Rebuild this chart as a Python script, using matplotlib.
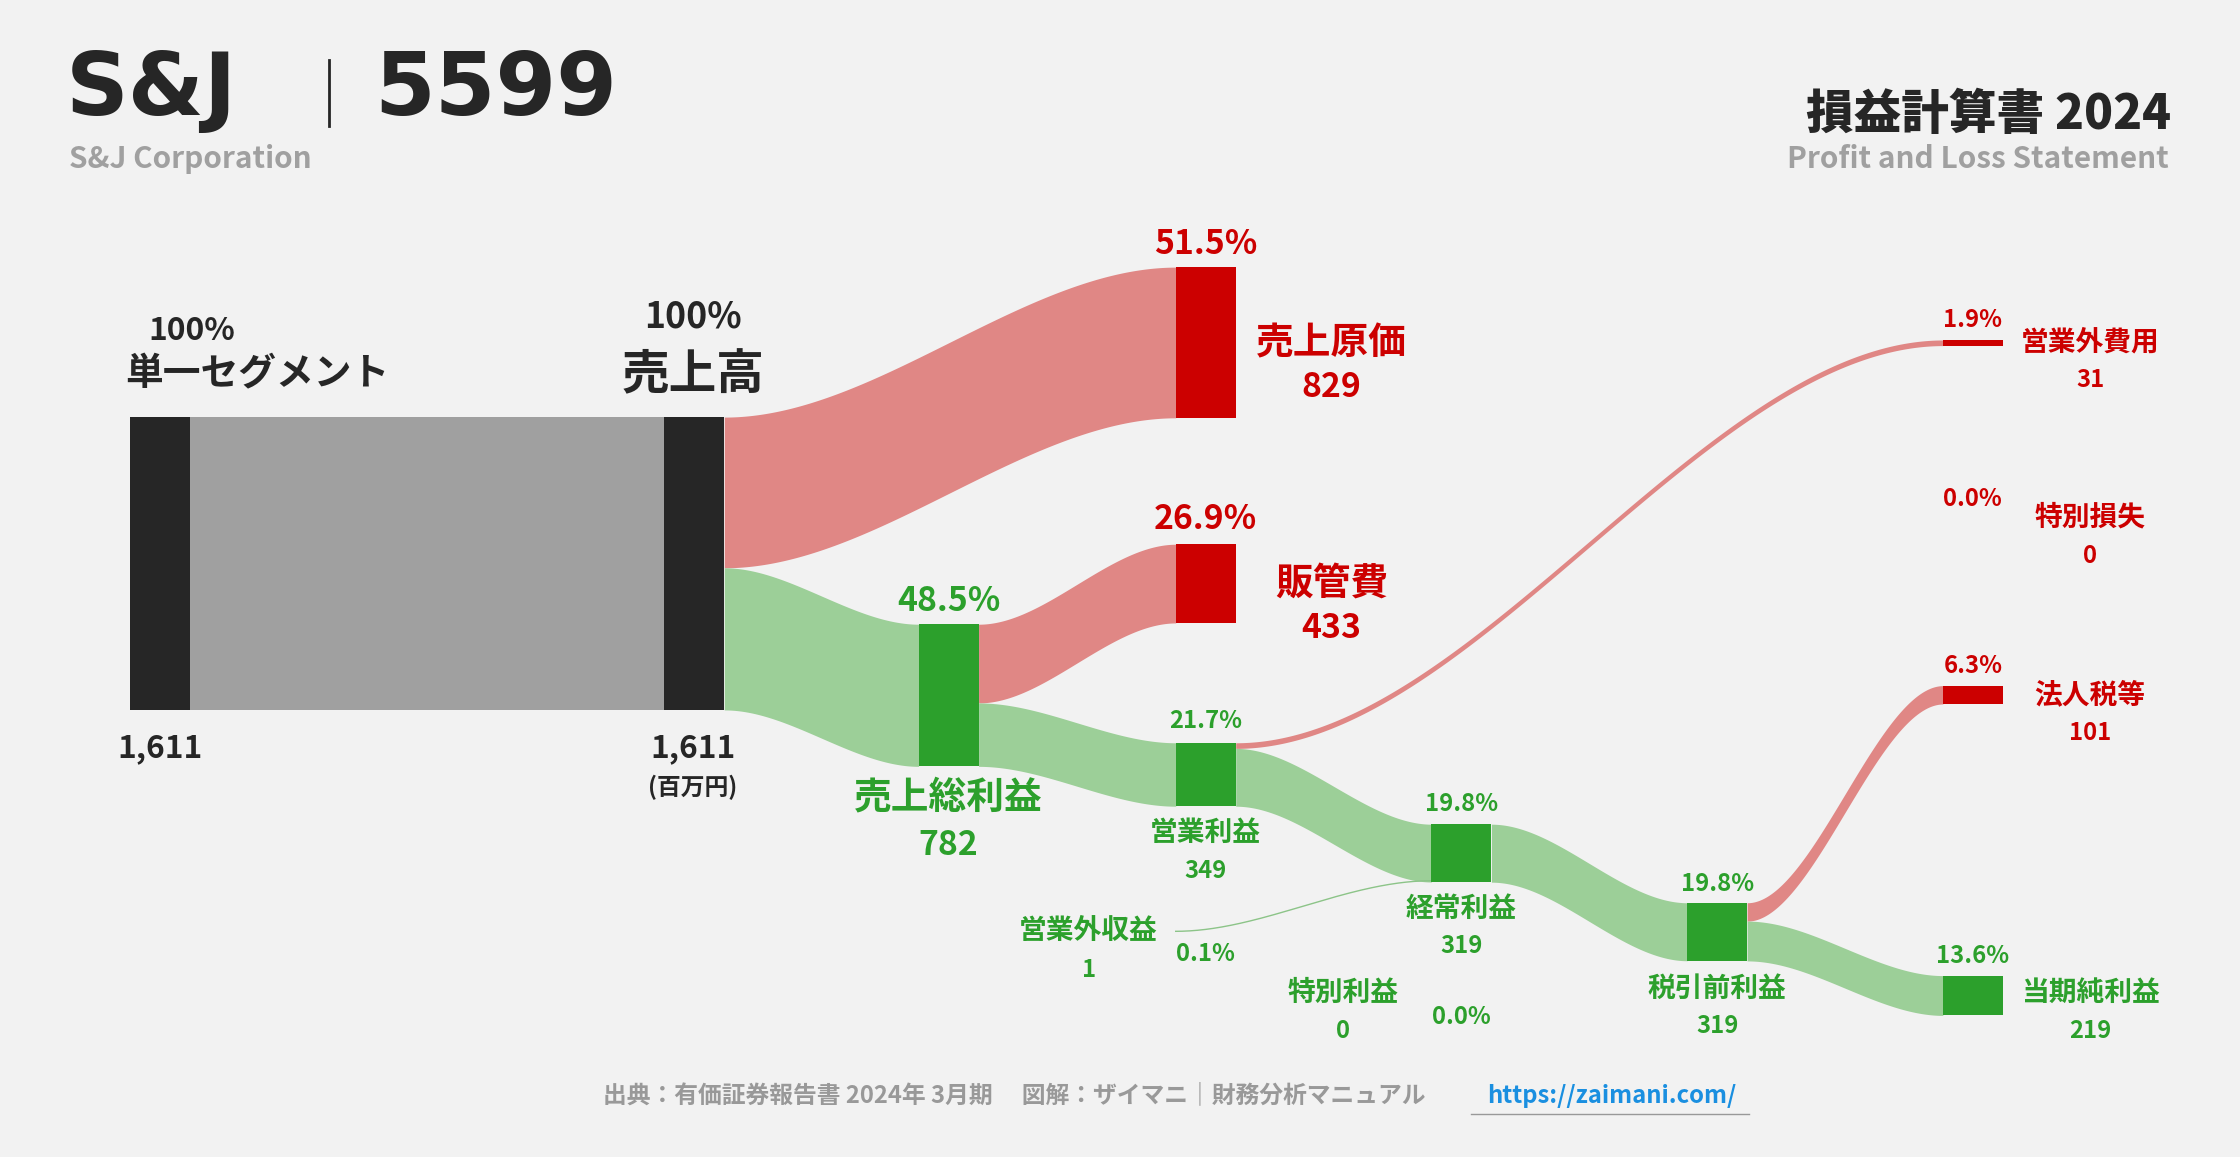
import matplotlib
matplotlib.use("Agg")
import matplotlib.pyplot as plt
import numpy as np

plt.rcParams["font.family"] = ["Noto Sans CJK JP"]

# data (百万円)
revenue = 1611
cogs = 829
gross = 782
sga = 433
op_income = 349
nonop_inc = 1
nonop_exp = 31
ordinary = 319
sp_gain = 0
sp_loss = 0
pretax = 319
tax = 101
net = 219

W, H = 1568, 810
fig = plt.figure(figsize=(22.4, 11.57), dpi=100)
fig.patch.set_facecolor("#f2f2f2")
ax = fig.add_axes([0, 0, 1, 1])
ax.set_xlim(0, W); ax.set_ylim(H, 0); ax.axis("off")
ax.set_facecolor("#f2f2f2")

S = 205 / revenue  # px per unit
BW = 42
RED, LRED = "#cc0000", "#e08785"
GRN, LGRN = "#2ca02c", "#9ccf98"
DK = "#262626"

def h(v): return v * S

def node(x, y, v, c, minh=0):
    ax.add_patch(plt.Rectangle((x, y), BW, max(h(v), minh), color=c, lw=0, zorder=3))

def band(x0, y0, x1, y1, v, c, minh=0):
    t = np.linspace(0, 1, 200)
    s = t * t * (3 - 2 * t)
    xs = x0 + (x1 - x0) * t
    top = y0 + (y1 - y0) * s
    hh = max(h(v), minh)
    ax.fill_between(xs, top, top + hh, color=c, lw=0, zorder=2)

seg_x, rev_x = 91, 465
gp_x, gp_y = 643, 437
cogs_x, cogs_y = 823, 187
sga_y = 381
oi_y = 520
ord_x, ord_y = 1002, 577
pt_x, pt_y = 1181, 632
r_x = 1360
ne_y, tax_y, net_y = 238, 480, 683
top = 292

ax.add_patch(plt.Rectangle((seg_x + BW, top), rev_x - seg_x - BW, h(revenue), color="#a0a0a0", lw=0))
node(seg_x, top, revenue, DK)
node(rev_x, top, revenue, DK)
band(rev_x + BW, top, cogs_x, cogs_y, cogs, LRED)
node(cogs_x, cogs_y, cogs, RED)
band(rev_x + BW, top + h(cogs), gp_x, gp_y, gross, LGRN)
node(gp_x, gp_y, gross, GRN)
band(gp_x + BW, gp_y, cogs_x, sga_y, sga, LRED)
node(cogs_x, sga_y, sga, RED)
band(gp_x + BW, gp_y + h(sga), cogs_x, oi_y, op_income, LGRN)
node(cogs_x, oi_y, op_income, GRN)
band(cogs_x + BW, oi_y, r_x, ne_y, nonop_exp, LRED)
node(r_x, ne_y, nonop_exp, RED)
band(cogs_x + BW, oi_y + h(nonop_exp), ord_x, ord_y, op_income - nonop_exp, LGRN)
t = np.linspace(0, 1, 200); s = t * t * (3 - 2 * t)
ax.plot(823 + (ord_x - 823) * t, 652 + (ord_y + h(ordinary) - 1 - 652) * s, color="#8cc488", lw=1, zorder=2)
node(ord_x, ord_y, ordinary, GRN)
band(ord_x + BW, ord_y, pt_x, pt_y, pretax, LGRN)
node(pt_x, pt_y, pretax, GRN)
band(pt_x + BW, pt_y, r_x, tax_y, tax, LRED)
node(r_x, tax_y, tax, RED)
band(pt_x + BW, pt_y + h(tax), r_x, net_y, net, LGRN)
node(r_x, net_y, net, GRN)

def T(x, y, s, c=DK, size=16, ha="center", w="bold", fam=None):
    kw = {"family": fam} if fam else {}
    ax.text(x, y, s, color=c, fontsize=size * 1.4286, ha=ha, va="center", fontweight=w, **kw)

pct = lambda v: f"{v / revenue * 100:.1f}%"
T(46, 64, "S&J", size=44, ha="left", fam="DejaVu Sans")
ax.plot([230, 230], [42, 88], color=DK, lw=2)
T(262, 64, "5599", size=44, ha="left", fam="DejaVu Sans")
T(48, 111, "S&J Corporation", c="#a0a0a0", size=15, ha="left")
T(1520, 80, "損益計算書 2024", size=24, ha="right", w="black")
T(1518, 111, "Profit and Loss Statement", c="#a0a0a0", size=15, ha="right")

T(134, 232, "100%", size=16)
T(180, 262, "単一セグメント", size=19)
T(112, 524, f"{revenue:,}", size=16)
T(485, 222, "100%", size=18)
T(485, 263, "売上高", size=24)
T(485, 524, f"{revenue:,}", size=16)
T(485, 551, "(百万円)", size=12)
T(844, 171, pct(cogs), c=RED, size=17)
T(932, 240, "売上原価", c=RED, size=19)
T(932, 271, f"{cogs}", c=RED, size=17)
T(844, 364, pct(sga), c=RED, size=17)
T(932, 408, "販管費", c=RED, size=19)
T(932, 440, f"{sga}", c=RED, size=17)
T(664, 421, pct(gross), c=GRN, size=17)
T(664, 558, "売上総利益", c=GRN, size=19)
T(664, 592, f"{gross}", c=GRN, size=17)
T(844, 505, pct(op_income), c=GRN, size=12)
T(844, 583, "営業利益", c=GRN, size=14)
T(844, 610, f"{op_income}", c=GRN, size=12)
T(1023, 563, pct(ordinary), c=GRN, size=12)
T(1023, 636, "経常利益", c=GRN, size=14)
T(1023, 662, f"{ordinary}", c=GRN, size=12)
T(1202, 619, pct(pretax), c=GRN, size=12)
T(1202, 692, "税引前利益", c=GRN, size=14)
T(1202, 718, f"{pretax}", c=GRN, size=12)
T(762, 652, "営業外収益", c=GRN, size=14)
T(762, 679, f"{nonop_inc}", c=GRN, size=12)
T(844, 668, pct(nonop_inc), c=GRN, size=12)
T(940, 695, "特別利益", c=GRN, size=14)
T(940, 722, f"{sp_gain}", c=GRN, size=12)
T(1023, 712, pct(sp_gain), c=GRN, size=12)
T(1381, 224, pct(nonop_exp), c=RED, size=12)
T(1463, 240, "営業外費用", c=RED, size=14)
T(1463, 266, f"{nonop_exp}", c=RED, size=12)
T(1381, 349, pct(sp_loss), c=RED, size=12)
T(1463, 362, "特別損失", c=RED, size=14)
T(1463, 389, f"{sp_loss}", c=RED, size=12)
T(1381, 466, pct(tax), c=RED, size=12)
T(1463, 487, "法人税等", c=RED, size=14)
T(1463, 513, f"{tax}", c=RED, size=12)
T(1381, 669, pct(net), c=GRN, size=12)
T(1463, 695, "当期純利益", c=GRN, size=14)
T(1463, 722, f"{net}", c=GRN, size=12)

T(710, 767, "出典：有価証券報告書 2024年 3月期　 図解：ザイマニ｜財務分析マニュアル", c="#999999", size=12)
T(1128, 767, "https://zaimani.com/", c="#1a8fe0", size=12)
ax.plot([1030, 1224], [780, 780], color="#999999", lw=1)

fig.savefig("out.png", dpi=100, facecolor=fig.get_facecolor())
